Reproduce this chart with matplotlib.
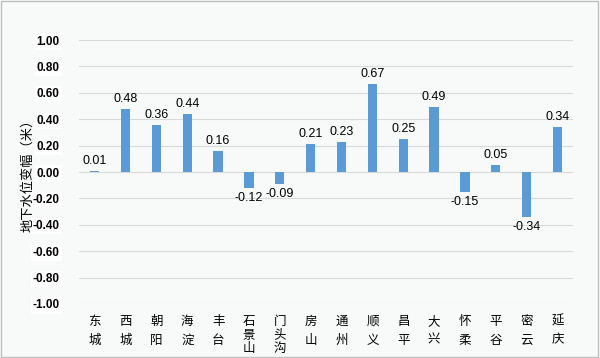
import matplotlib
matplotlib.use("Agg")
import matplotlib.pyplot as plt
from matplotlib.patches import Rectangle

plt.rcParams['font.family'] = ['Noto Sans CJK SC', 'DejaVu Sans']

districts = ["东城", "西城", "朝阳", "海淀", "丰台", "石景山", "门头沟", "房山", "通州",
             "顺义", "昌平", "大兴", "怀柔", "平谷", "密云", "延庆"]
values = [0.01, 0.48, 0.36, 0.44, 0.16, -0.12, -0.09, 0.21, 0.23,
          0.67, 0.25, 0.49, -0.15, 0.05, -0.34, 0.34]
yticks = [-1.0, -0.8, -0.6, -0.4, -0.2, 0.0, 0.2, 0.4, 0.6, 0.8, 1.0]
ylabel = "地下水位变幅（米）"

fig = plt.figure(figsize=(6, 3.58), dpi=100, facecolor='#F8FAFA')
ax = fig.add_axes([0.132, 0.151, 0.823, 0.737])
ax.set_facecolor('#F8FAFA')
x = list(range(len(districts)))
ax.bar(x, values, width=0.3, color='#5B9BD5', zorder=3)
ax.set_ylim(-1.0, 1.0)
ax.set_xlim(-0.5, len(districts) - 0.5)
ax.set_yticks(yticks)
ax.set_yticklabels([f"{v:.2f}" for v in yticks], fontsize=8.5, fontweight='bold',
                   family=['Liberation Sans', 'DejaVu Sans'])
for lab in ax.get_yticklabels():
    lab.set_bbox(dict(facecolor='white', edgecolor='none', pad=1.5))
ax.yaxis.grid(True, color='#D9D9D9', linewidth=0.8, zorder=0)
ax.tick_params(axis='both', length=0)
ax.tick_params(axis='y', pad=14)
for s in ax.spines.values():
    s.set_visible(False)
ax.set_xticks(x)
ax.set_xticklabels([])
for xi, d in zip(x, districts):
    ls = 1.55 if len(d) == 2 else 1.05
    ax.annotate("\n".join(d), xy=(xi, 0), xycoords=('data', 'axes fraction'),
                xytext=(0, -8), textcoords='offset points', ha='center', va='top',
                fontsize=9, linespacing=ls)
for xi, v in zip(x, values):
    if v >= 0:
        ax.text(xi, v + 0.03, f"{v:.2f}", ha='center', va='bottom', fontsize=9,
                family=['Liberation Sans', 'DejaVu Sans'])
    else:
        ax.text(xi, v - 0.03, f"{v:.2f}", ha='center', va='top', fontsize=9,
                family=['Liberation Sans', 'DejaVu Sans'])
ax.set_ylabel(ylabel, fontsize=9.5)
ax.yaxis.set_label_coords(-0.09, 0.5)
fig.patches.append(Rectangle((0.002, 0.003), 0.995, 0.993, transform=fig.transFigure,
                             fill=False, edgecolor='#BFBFBF', linewidth=1.0))
fig.savefig("out.png", dpi=100, facecolor=fig.get_facecolor())
